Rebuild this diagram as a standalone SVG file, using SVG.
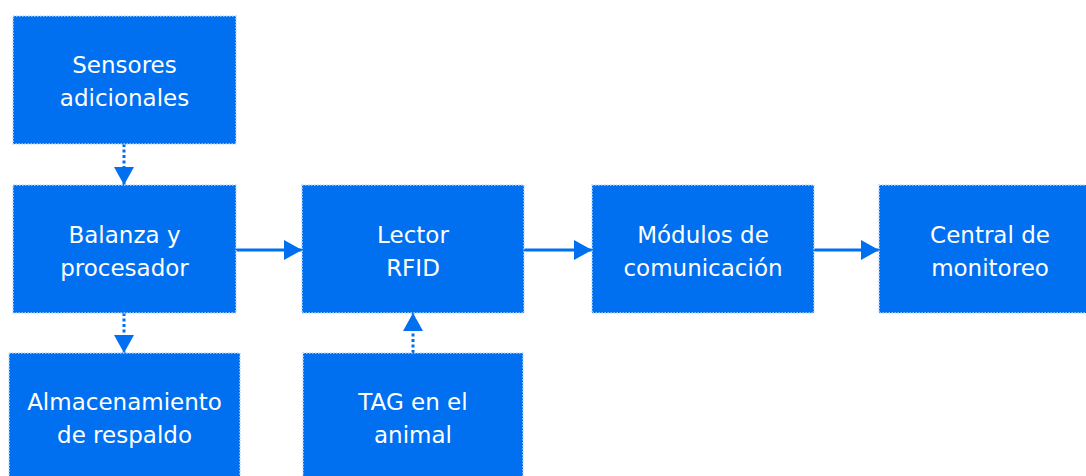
<svg xmlns="http://www.w3.org/2000/svg" width="1086" height="476" viewBox="0 0 1086 476">
<style>
.box{fill:#0070f0;stroke:#b9d8ff;stroke-width:1.5;stroke-dasharray:1.5 1.5}
.t{font-family:"DejaVu Sans",Verdana,sans-serif;font-size:23px;fill:#ffffff;text-anchor:middle}
.ln{stroke:#0070f0;stroke-width:3;fill:none}
.dot{stroke-dasharray:3 2.5}
</style>
<defs>
<marker id="ah" markerWidth="18" markerHeight="20" refX="18" refY="10" orient="auto" markerUnits="userSpaceOnUse">
<path d="M0,0 L18,10 L0,20 Z" fill="#0070f0"/>
</marker>
</defs>
<rect width="1086" height="476" fill="#ffffff"/>
<g id="connectors">
<line class="ln dot" x1="124" y1="144" x2="124" y2="185" marker-end="url(#ah)"/>
<line class="ln dot" x1="124" y1="313" x2="124" y2="353" marker-end="url(#ah)"/>
<line class="ln dot" x1="413" y1="353" x2="413" y2="313" marker-end="url(#ah)"/>
<line class="ln" x1="236" y1="250" x2="302" y2="250" marker-end="url(#ah)"/>
<line class="ln" x1="524" y1="250" x2="592" y2="250" marker-end="url(#ah)"/>
<line class="ln" x1="814" y1="250" x2="879" y2="250" marker-end="url(#ah)"/>
</g>
<g id="sensores">
<rect class="box" x="13" y="16" width="223" height="128"/>
<text class="t" x="124.5" y="73">Sensores</text>
<text class="t" x="124.5" y="106">adicionales</text>
</g>
<g id="balanza">
<rect class="box" x="13" y="185" width="223" height="128"/>
<text class="t" x="124.5" y="242.5">Balanza y</text>
<text class="t" x="124.5" y="275.5">procesador</text>
</g>
<g id="almacenamiento">
<rect class="box" x="9" y="353" width="231" height="130"/>
<text class="t" x="124.5" y="410">Almacenamiento</text>
<text class="t" x="124.5" y="443">de respaldo</text>
</g>
<g id="lector">
<rect class="box" x="302" y="185" width="222" height="128"/>
<text class="t" x="413" y="242.5">Lector</text>
<text class="t" x="413" y="275.5">RFID</text>
</g>
<g id="tag">
<rect class="box" x="303" y="353" width="220" height="130"/>
<text class="t" x="413" y="410">TAG en el</text>
<text class="t" x="413" y="443">animal</text>
</g>
<g id="modulos">
<rect class="box" x="592" y="185" width="222" height="128"/>
<text class="t" x="703" y="242.5">Módulos de</text>
<text class="t" x="703" y="275.5">comunicación</text>
</g>
<g id="central">
<rect class="box" x="879" y="185" width="222" height="128"/>
<text class="t" x="990" y="242.5">Central de</text>
<text class="t" x="990" y="275.5">monitoreo</text>
</g>
</svg>
